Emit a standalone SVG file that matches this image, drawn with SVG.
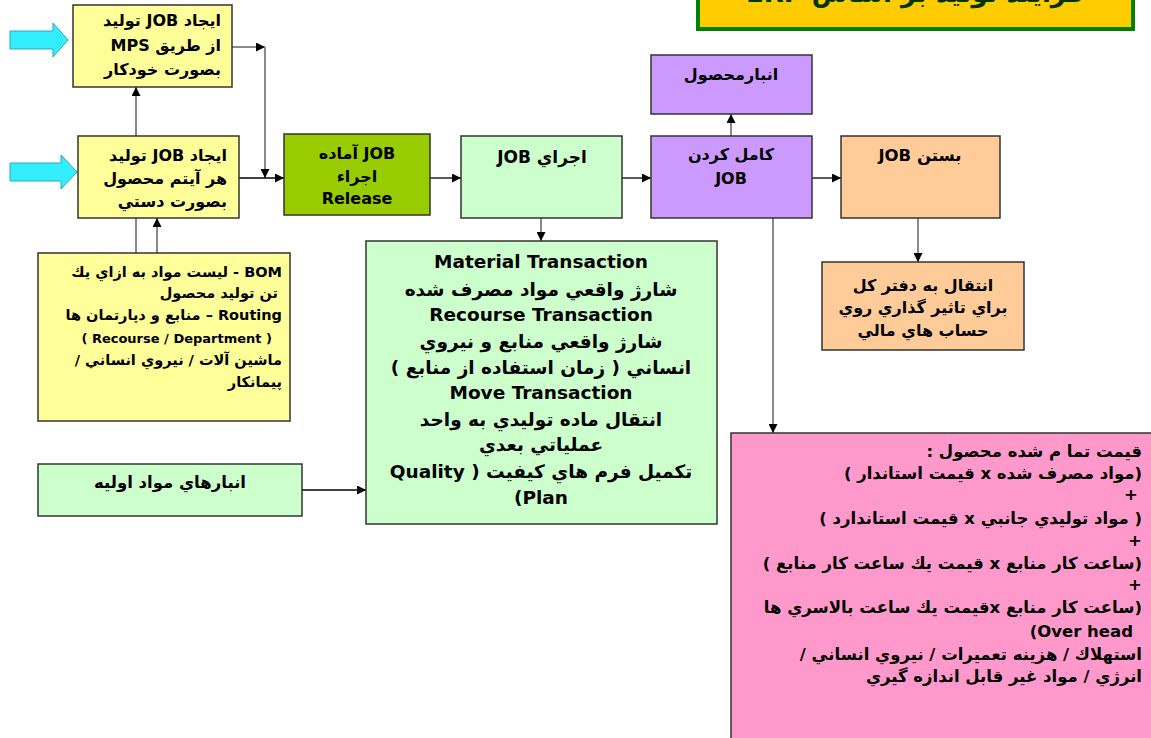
<svg xmlns="http://www.w3.org/2000/svg" width="1151" height="738" viewBox="0 0 1151 738">
<style>
text{font-family:"DejaVu Sans","Noto Sans",sans-serif;font-weight:bold;fill:#000;direction:rtl;unicode-bidi:embed}
.t{font-size:16px}
.s{font-size:14.5px}
.r{text-anchor:start}
.m{text-anchor:middle}
.b{stroke:#333;stroke-width:1.5}
.lk{stroke:#000;stroke-width:1.3;fill:none}
.lg{stroke:#8a8a8a;stroke-width:2;fill:none}
.big{font-size:18.5px}
.pk{font-size:16.5px}
</style>
<defs>
<marker id="ah" viewBox="0 0 10 10" refX="10" refY="5" markerWidth="9" markerHeight="9" markerUnits="userSpaceOnUse" orient="auto">
<path d="M0,0 L10,5 L0,10 z" fill="#000"/>
</marker>
</defs>
<rect width="1151" height="738" fill="#fff"/>

<g id="title">
<rect x="698" y="-20" width="435" height="49" fill="#FFCC00" stroke="#008000" stroke-width="4"/>
<text x="915" y="2" class="m" style="font-size:26px;fill:#003300">فرايند توليد بر اساس ERP</text>
</g>

<g id="inputs">
<path d="M10,31 H53 V23 L68,40 L53,57 V49 H10 z" fill="#33EEFF" stroke="#2AA8B8" stroke-width="1"/>
<path d="M10,163 H61 V155 L77,172 L61,189 V181 H10 z" fill="#33EEFF" stroke="#2AA8B8" stroke-width="1"/>
</g>

<g id="connectors">
<line x1="136" y1="136" x2="136" y2="87" class="lg" marker-end="url(#ah)"/>
<line x1="136" y1="253" x2="136" y2="218" class="lg"/>
<line x1="157" y1="253" x2="157" y2="218" class="lg" marker-end="url(#ah)"/>
<line x1="232" y1="47" x2="265" y2="47" class="lg" marker-end="url(#ah)"/>
<line x1="265" y1="47" x2="265" y2="178" class="lg" marker-end="url(#ah)"/>
<line x1="239" y1="178" x2="284" y2="178" class="lk" marker-end="url(#ah)"/>
<line x1="430" y1="178" x2="461" y2="178" class="lk" marker-end="url(#ah)"/>
<line x1="622" y1="178" x2="651" y2="178" class="lk" marker-end="url(#ah)"/>
<line x1="812" y1="178" x2="841" y2="178" class="lk" marker-end="url(#ah)"/>
<line x1="731" y1="136" x2="731" y2="114" class="lg" marker-end="url(#ah)"/>
<line x1="541" y1="218" x2="541" y2="241" class="lg" marker-end="url(#ah)"/>
<line x1="918" y1="218" x2="918" y2="262" class="lg" marker-end="url(#ah)"/>
<line x1="773" y1="218" x2="773" y2="433" class="lg" marker-end="url(#ah)"/>
<line x1="302" y1="490" x2="366" y2="490" class="lk" marker-end="url(#ah)"/>
</g>

<g id="job-mps">
<rect x="73" y="5" width="159" height="82" fill="#FFFF99" class="b"/>
<text class="t r" x="221" y="26">ايجاد JOB توليد</text>
<text class="t r" x="221" y="51">از طريق MPS</text>
<text class="t r" x="221" y="75">بصورت خودكار</text>
</g>

<g id="job-manual">
<rect x="78" y="136" width="161" height="82" fill="#FFFF99" class="b"/>
<text class="t r" x="227" y="161">ايجاد JOB توليد</text>
<text class="t r" x="227" y="184">هر آيتم محصول</text>
<text class="t r" x="227" y="207">بصورت دستي</text>
</g>

<g id="bom">
<rect x="38" y="253" width="252" height="168" fill="#FFFF99" class="b"/>
<text class="s r" x="282" y="277">BOM - ليست مواد به ازاي يك</text>
<text class="s r" x="278" y="298">تن توليد  محصول</text>
<text class="s r" x="282" y="320">Routing  – منابع و دپارتمان ها</text>
<text class="r" style="font-size:13px" x="272" y="343">( Recourse / Department )</text>
<text class="s r" x="282" y="365">ماشين آلات / نيروي انساني /</text>
<text class="s r" x="282" y="387">پيمانكار</text>
</g>

<g id="release">
<rect x="284" y="134" width="146" height="81" fill="#99CC00" class="b"/>
<text class="t m" x="357" y="159">JOB آماده</text>
<text class="t m" x="357" y="182">اجراء</text>
<text class="t m" x="357" y="204">Release</text>
</g>

<g id="execute">
<rect x="461" y="136" width="161" height="82" fill="#CCFFCC" class="b"/>
<text class="m" style="font-size:17px" x="542" y="163">اجراي  JOB</text>
</g>

<g id="transactions">
<rect x="366" y="241" width="351" height="283" fill="#CCFFCC" class="b"/>
<text class="big m" x="541" y="268">Material Transaction</text>
<text class="big m" x="541" y="296">شارژ واقعي مواد مصرف شده</text>
<text class="big m" x="541" y="321">Recourse Transaction</text>
<text class="big m" x="541" y="348">شارژ واقعي منابع و نيروي</text>
<text class="big m" x="541" y="374">انساني ( زمان استفاده از منابع )</text>
<text class="big m" x="541" y="399">Move Transaction</text>
<text class="big m" x="541" y="426">انتقال ماده توليدي به واحد</text>
<text class="big m" x="541" y="451">عملياتي  بعدي</text>
<text class="big m" x="541" y="478">تكميل فرم هاي كيفيت ( Quality</text>
<text class="big m" x="541" y="504">Plan)</text>
</g>

<g id="raw-stock">
<rect x="38" y="464" width="264" height="52" fill="#CCFFCC" class="b"/>
<text class="m" style="font-size:16.5px" x="170" y="488">انبارهاي مواد اوليه</text>
</g>

<g id="product-stock">
<rect x="651" y="55" width="161" height="59" fill="#CC99FF" class="b"/>
<text class="t m" x="731" y="80">انبارمحصول</text>
</g>

<g id="complete">
<rect x="651" y="136" width="161" height="82" fill="#CC99FF" class="b"/>
<text class="t m" x="731" y="160">كامل كردن</text>
<text class="t m" x="731" y="184">JOB</text>
</g>

<g id="close">
<rect x="841" y="136" width="159" height="82" fill="#FFCC99" class="b"/>
<text class="m" style="font-size:16.5px" x="920" y="161">بستن JOB</text>
</g>

<g id="ledger">
<rect x="822" y="262" width="202" height="88" fill="#FFCC99" class="b"/>
<text class="t m" x="923" y="291">انتقال به دفتر كل</text>
<text class="t m" x="923" y="313">براي تاثير گذاري روي</text>
<text class="t m" x="923" y="336">حساب هاي مالي</text>
</g>

<g id="cost">
<rect x="731" y="433" width="430" height="320" fill="#FF99CC" class="b"/>
<text class="pk r" x="1142" y="457">قيمت تما م شده محصول :</text>
<text class="pk r" x="1142" y="479">(مواد مصرف شده x قيمت استاندار  )</text>
<text class="pk m" x="1131" y="500">+</text>
<text class="pk r" x="1142" y="524">( مواد توليدي جانبي x قيمت استاندارد )</text>
<text class="pk m" x="1135" y="546">+</text>
<text class="pk r" x="1142" y="569">(ساعت كار منابع x قيمت يك ساعت كار منابع )</text>
<text class="pk m" x="1135" y="590">+</text>
<text class="pk r" x="1142" y="613">(ساعت كار منابع xقيمت يك ساعت بالاسري ها</text>
<text class="pk r" x="1133" y="637">Over head)</text>
<text class="pk r" x="1142" y="660">استهلاك / هزينه تعميرات / نيروي انساني /</text>
<text class="pk r" x="1142" y="682">انرژي / مواد غير قابل اندازه گيري</text>
</g>
</svg>
